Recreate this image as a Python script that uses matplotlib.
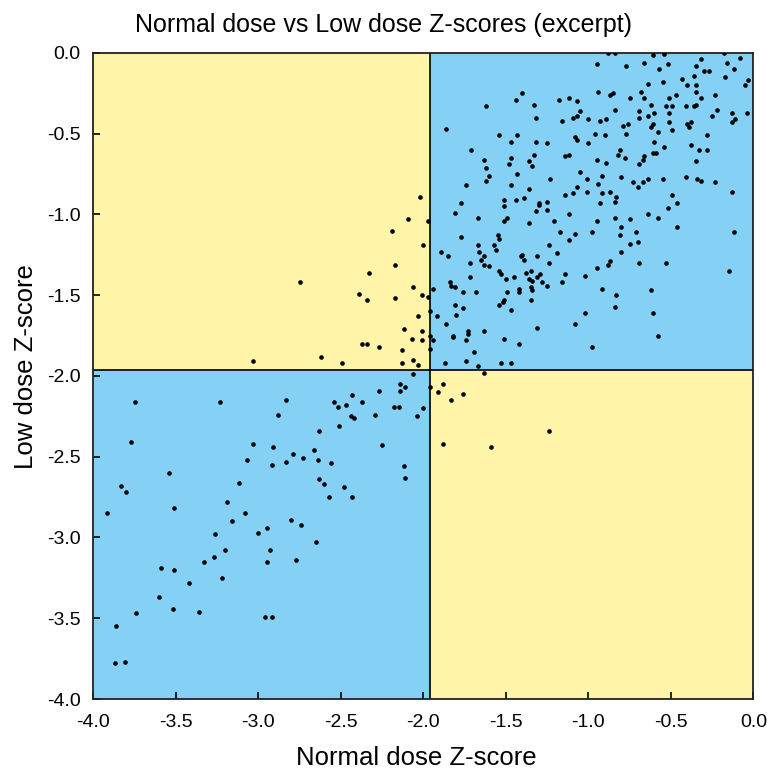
import matplotlib
matplotlib.use("Agg")
import matplotlib.pyplot as plt
from matplotlib.ticker import MultipleLocator, FormatStrFormatter

plt.rcParams['font.family'] = ['Liberation Sans', 'DejaVu Sans']
plt.rcParams['axes.unicode_minus'] = False

CUTOFF = -1.96

# (normal dose z, low dose z), grouped by region
lower_left = [
    (-3.75, -2.16), (-3.23, -2.16), (-3.77, -2.41), (-3.54, -2.60), (-3.83, -2.68), (-3.80, -2.72),
    (-3.92, -2.85), (-3.51, -2.82), (-2.83, -2.15), (-2.88, -2.24), (-3.03, -2.42), (-2.91, -2.44),
    (-3.07, -2.52), (-2.92, -2.55), (-2.83, -2.53), (-2.79, -2.48), (-2.73, -2.51), (-2.66, -2.46),
    (-2.64, -2.52), (-2.56, -2.54), (-2.63, -2.34), (-2.63, -2.64), (-2.60, -2.67), (-2.57, -2.75),
    (-2.48, -2.69), (-2.43, -2.75), (-3.12, -2.66), (-3.19, -2.78), (-3.16, -2.90), (-3.08, -2.85),
    (-3.26, -2.98), (-3.20, -3.08), (-3.27, -3.12), (-3.33, -3.15), (-3.59, -3.19), (-3.51, -3.20),
    (-3.42, -3.28), (-3.22, -3.25), (-3.60, -3.37), (-3.52, -3.44), (-3.36, -3.46), (-3.74, -3.47),
    (-3.86, -3.55), (-3.87, -3.78), (-3.81, -3.77), (-3.00, -2.97), (-2.95, -2.94), (-2.93, -3.08),
    (-2.95, -3.15), (-2.80, -2.89), (-2.74, -2.92), (-2.77, -3.14), (-2.65, -3.03), (-2.96, -3.49),
    (-2.92, -3.49), (-2.54, -2.16), (-2.52, -2.19), (-2.47, -2.18), (-2.43, -2.12), (-2.37, -2.16),
    (-2.51, -2.31), (-2.44, -2.25), (-2.42, -2.26), (-2.29, -2.24), (-2.27, -2.09), (-2.25, -2.43),
    (-2.18, -2.19), (-2.15, -2.19), (-2.14, -2.05), (-2.14, -2.09), (-2.11, -2.07), (-2.06, -1.99),
    (-2.04, -2.25), (-2.00, -2.20), (-2.12, -2.56), (-2.11, -2.63),
]

upper_left = [
    (-2.02, -0.89), (-2.09, -1.03), (-1.97, -1.04), (-2.19, -1.10), (-2.00, -1.19), (-2.17, -1.31),
    (-2.33, -1.36), (-2.75, -1.42), (-2.39, -1.49), (-2.34, -1.53), (-2.17, -1.52), (-2.06, -1.45),
    (-2.01, -1.50), (-1.97, -1.51), (-1.94, -1.46), (-1.96, -1.60), (-1.92, -1.63), (-2.03, -1.63),
    (-2.12, -1.71), (-2.01, -1.72), (-2.07, -1.77), (-2.01, -1.78), (-1.96, -1.75), (-1.94, -1.78),
    (-1.96, -1.83), (-2.37, -1.80), (-2.34, -1.80), (-2.27, -1.82), (-2.13, -1.84), (-2.13, -1.92),
    (-2.06, -1.90), (-2.03, -1.93), (-2.62, -1.88), (-2.49, -1.92), (-3.03, -1.91),
]

lower_right = [
    (-1.96, -2.07), (-1.91, -2.10), (-1.63, -1.98), (-1.88, -2.05), (-1.76, -2.11), (-1.83, -2.15),
    (-1.88, -2.42), (-1.59, -2.44), (-1.24, -2.34),
]

upper_right = [
    (-1.87, -1.92), (-1.74, -1.91), (-1.67, -1.94), (-1.53, -1.92), (-1.47, -1.92),
    (-1.81, -0.99), (-1.67, -1.02), (-1.51, -1.04), (-1.49, -1.02), (-1.32, -0.98), (-1.36, -1.05),
    (-1.77, -1.14), (-1.55, -1.13), (-1.54, -1.15), (-1.67, -1.19), (-1.57, -1.19), (-1.66, -1.23),
    (-1.56, -1.22), (-1.89, -1.23), (-1.85, -1.26), (-1.63, -1.26), (-1.65, -1.28), (-1.72, -1.30),
    (-1.63, -1.31), (-1.60, -1.32), (-1.40, -1.25), (-1.41, -1.26), (-1.39, -1.28), (-1.54, -1.35),
    (-1.53, -1.37), (-1.50, -1.40), (-1.45, -1.39), (-1.38, -1.36), (-1.35, -1.35), (-1.36, -1.40),
    (-1.34, -1.41), (-1.72, -1.39), (-1.84, -1.42), (-1.83, -1.44), (-1.81, -1.45), (-1.76, -1.48),
    (-1.68, -1.48), (-1.49, -1.48), (-1.42, -1.46), (-1.42, -1.48), (-1.35, -1.45), (-1.34, -1.47),
    (-1.35, -1.53), (-1.51, -1.53), (-1.52, -1.54), (-1.54, -1.56), (-1.81, -1.56), (-1.76, -1.58),
    (-1.47, -1.59), (-1.80, -1.62), (-1.86, -1.68), (-1.73, -1.72), (-1.73, -1.74), (-1.63, -1.72),
    (-1.82, -1.75), (-1.82, -1.76), (-1.74, -1.78), (-1.51, -1.77), (-1.42, -1.80), (-1.69, -1.85),
    # middle band
    (-1.25, -0.97), (-1.12, -1.00), (-1.21, -1.04), (-0.95, -1.04), (-0.84, -1.02), (-0.75, -1.03),
    (-0.80, -1.08), (-1.17, -1.11), (-1.08, -1.12), (-0.98, -1.11), (-0.81, -1.13), (-0.71, -1.11),
    (-1.12, -1.16), (-0.75, -1.18), (-0.70, -1.17), (-1.24, -1.19), (-1.19, -1.24), (-0.80, -1.23),
    (-1.31, -1.26), (-1.24, -1.30), (-0.87, -1.29), (-0.88, -1.31), (-0.95, -1.33), (-0.69, -1.30),
    (-1.29, -1.37), (-1.31, -1.39), (-1.14, -1.37), (-1.02, -1.38), (-1.28, -1.42), (-1.25, -1.44),
    (-1.16, -1.42), (-0.92, -1.46), (-0.83, -1.50), (-0.84, -1.57), (-1.02, -1.61), (-1.31, -1.70),
    (-1.08, -1.68), (-0.98, -1.82),
    (-0.64, -1.00), (-0.58, -1.02), (-0.46, -1.08), (-0.12, -1.11), (-0.53, -1.30), (-0.15, -1.35),
    (-0.62, -1.47), (-0.61, -1.61), (-0.58, -1.75),
    # upper band
    (-1.40, -0.25), (-1.44, -0.29), (-1.33, -0.32), (-1.62, -0.33), (-1.32, -0.40), (-1.86, -0.47),
    (-1.54, -0.51), (-1.43, -0.51), (-1.47, -0.55), (-1.32, -0.55), (-1.71, -0.60), (-1.63, -0.66),
    (-1.47, -0.65), (-1.48, -0.69), (-1.33, -0.63), (-1.36, -0.67), (-1.34, -0.70), (-1.62, -0.71),
    (-1.60, -0.76), (-1.62, -0.79), (-1.43, -0.75), (-1.74, -0.82), (-1.47, -0.82), (-1.36, -0.84),
    (-1.77, -0.93), (-1.51, -0.91), (-1.44, -0.91), (-1.39, -0.90), (-1.51, -0.95),
    (-0.88, -0.003), (-0.84, -0.003), (-0.95, -0.07), (-0.77, -0.08), (-0.66, -0.06), (-0.94, -0.24),
    (-1.18, -0.29), (-1.12, -0.28), (-1.07, -0.30), (-0.87, -0.26), (-0.85, -0.25), (-0.75, -0.28),
    (-0.68, -0.24), (-0.66, -0.28), (-0.84, -0.35), (-1.05, -0.36), (-0.69, -0.36), (-1.16, -0.42),
    (-1.09, -0.40), (-1.07, -0.39), (-1.00, -0.41), (-0.93, -0.42), (-0.89, -0.41), (-0.69, -0.40),
    (-0.79, -0.45), (-0.76, -0.44), (-0.96, -0.50), (-0.90, -0.51), (-0.77, -0.50), (-1.08, -0.52),
    (-1.07, -0.54), (-1.25, -0.56), (-1.00, -0.56), (-0.81, -0.60), (-0.82, -0.63), (-0.78, -0.65),
    (-1.14, -0.64), (-1.12, -0.63), (-0.95, -0.66), (-0.89, -0.68), (-0.69, -0.69), (-0.67, -0.66),
    (-0.66, -0.64), (-1.05, -0.74), (-1.23, -0.78), (-1.01, -0.78), (-0.92, -0.76), (-0.80, -0.77),
    (-0.94, -0.81), (-0.73, -0.80), (-0.70, -0.83), (-0.67, -0.80), (-1.07, -0.83), (-1.14, -0.88),
    (-1.09, -0.87), (-1.01, -0.86), (-0.92, -0.87), (-0.87, -0.86), (-0.83, -0.89), (-0.84, -0.92),
    (-0.93, -0.93), (-1.30, -0.93), (-1.30, -0.94), (-1.25, -0.92),
    (-0.61, -0.01), (-0.54, -0.005), (-0.18, -0.003), (-0.52, -0.07), (-0.57, -0.10), (-0.32, -0.04),
    (-0.35, -0.08), (-0.30, -0.11), (-0.27, -0.11), (-0.16, -0.06), (-0.08, -0.03), (-0.12, -0.10),
    (-0.36, -0.14), (-0.43, -0.16), (-0.17, -0.15), (-0.64, -0.19), (-0.55, -0.18), (-0.40, -0.20),
    (-0.35, -0.20), (-0.03, -0.17), (-0.05, -0.20), (-0.35, -0.24), (-0.32, -0.28), (-0.23, -0.26),
    (-0.51, -0.28), (-0.47, -0.26), (-0.62, -0.32), (-0.49, -0.33), (-0.53, -0.33), (-0.51, -0.37),
    (-0.41, -0.33), (-0.36, -0.33), (-0.35, -0.32), (-0.22, -0.35), (-0.60, -0.37), (-0.64, -0.39),
    (-0.25, -0.39), (-0.13, -0.37), (-0.04, -0.37), (-0.11, -0.41), (-0.13, -0.43), (-0.51, -0.43),
    (-0.61, -0.44), (-0.62, -0.46), (-0.40, -0.44), (-0.38, -0.43), (-0.39, -0.46), (-0.58, -0.49),
    (-0.49, -0.48), (-0.28, -0.51), (-0.60, -0.55), (-0.54, -0.58), (-0.38, -0.57), (-0.33, -0.60),
    (-0.28, -0.60), (-0.61, -0.62), (-0.59, -0.62), (-0.35, -0.67), (-0.41, -0.77), (-0.34, -0.78),
    (-0.32, -0.79), (-0.23, -0.80), (-0.55, -0.78), (-0.64, -0.78), (-0.13, -0.86), (-0.49, -0.88),
    (-0.46, -0.93), (-0.52, -0.96),
]

points = lower_left + upper_left + lower_right + upper_right
normal_z = [p[0] for p in points]
low_z = [p[1] for p in points]

yellow = '#fff4a7'
blue = '#85d0f5'

fig = plt.figure(figsize=(7.67, 7.70), dpi=100)
ax = fig.add_axes([0.1217, 0.0922, 0.8605, 0.839])

# quadrant backgrounds
ax.fill_between([-4, CUTOFF], CUTOFF, 0, color=yellow, lw=0)
ax.fill_between([CUTOFF, 0], -4, CUTOFF, color=yellow, lw=0)
ax.fill_between([-4, CUTOFF], -4, CUTOFF, color=blue, lw=0)
ax.fill_between([CUTOFF, 0], CUTOFF, 0, color=blue, lw=0)
ax.axvline(CUTOFF, color='black', lw=1.2, zorder=2)
ax.axhline(CUTOFF, color='black', lw=1.2, zorder=2)

ax.scatter(normal_z, low_z, s=11, c='black', linewidths=0, zorder=3)

ax.set_xlim(-4, 0)
ax.set_ylim(-4, 0)
for a in (ax.xaxis, ax.yaxis):
    a.set_major_locator(MultipleLocator(0.5))
    a.set_major_formatter(FormatStrFormatter('%.1f'))
ax.tick_params(direction='in', length=5, width=1.2, labelsize=14)
ax.tick_params(axis='x', pad=11)
ax.tick_params(axis='y', pad=9)
for s in ax.spines.values():
    s.set_linewidth(1.3)
    s.set_color('#222222')

fig.text(0.5, 1 - 32 / 770, 'Normal dose vs Low dose Z-scores (excerpt)',
         fontsize=18, ha='center', va='baseline')
ax.set_xlabel('Normal dose Z-score', fontsize=18.5, va='top')
ax.xaxis.set_label_coords(0.49, -0.072)
ax.set_ylabel('Low dose Z-score', fontsize=18.5)
ax.yaxis.set_label_coords(-0.084, 0.515)

fig.savefig('out.png', dpi=100)
